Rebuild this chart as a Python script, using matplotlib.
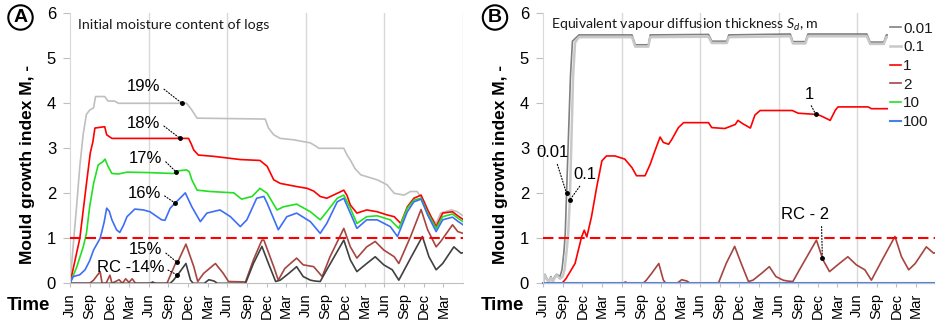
"""
Indice di crescita muffa M nel tempo: (A) umidità iniziale dei tronchi,
(B) spessore equivalente di diffusione del vapore S_d.
"""

import numpy as np
import matplotlib.pyplot as plt
from matplotlib.patches import Circle

plt.rcParams['font.family'] = ['Liberation Sans', 'DejaVu Sans']
plt.rcParams['mathtext.fontset'] = 'custom'
plt.rcParams['mathtext.it'] = 'Lato:italic'
plt.rcParams['mathtext.rm'] = 'Lato'

# --- Pannello A: umidità iniziale dei tronchi (mesi da giugno, valore M) ---
m19 = [0, 1.0, 1.5, 2.0, 2.5, 3.0, 3.6, 3.9, 5.3, 5.8, 6.8, 7.4, 17.8, 18.6, 19.4,
       29.8, 30.3, 31.1, 32.1, 34.1, 36.7, 37.5, 38.0, 41.8, 42.3, 42.8, 43.5, 44.4,
       46.9, 48.4, 49.5, 51.0, 52.0, 53.0, 54.1, 55.1, 55.9, 56.6, 58.2, 59.0, 60]
v19 = [0, 1.7, 2.6, 3.3, 3.75, 3.85, 3.9, 4.15, 4.15, 4.05, 4.05, 4.0, 4.0, 3.85, 3.67,
       3.65, 3.45, 3.3, 3.22, 3.19, 3.12, 3.05, 3.0, 3.0, 2.85, 2.74, 2.55, 2.41,
       2.3, 2.19, 2.0, 1.96, 2.04, 2.04, 1.81, 1.48, 1.33, 1.56, 1.63, 1.6, 1.5]

m18 = [0, 1.5, 2.5, 3.1, 3.5, 3.8, 5.3, 5.6, 6.4, 18.1, 18.5, 18.9, 19.6, 22, 26, 29.0,
       30.1, 31.1, 32.1, 34.6, 36.2, 37.2, 38.2, 39.2, 40.8, 41.8, 42.3, 42.8, 43.8, 45.3,
       46.9, 48.4, 49.5, 50.5, 51.5, 52.5, 53.6, 54.6, 55.9, 56.9, 58.4, 59.2, 60]
v18 = [0, 1.0, 2.2, 2.9, 3.15, 3.45, 3.48, 3.3, 3.22, 3.22, 3.1, 2.96, 2.85, 2.82, 2.75, 2.73,
       2.6, 2.3, 2.22, 2.15, 2.11, 2.05, 1.93, 1.89, 2.0, 2.07, 1.95, 1.74, 1.56, 1.63,
       1.59, 1.52, 1.48, 1.33, 1.7, 1.89, 1.96, 1.63, 1.26, 1.56, 1.59, 1.5, 1.42]

m17 = [0, 1.0, 2.0, 2.5, 3.0, 3.6, 4.3, 5.0, 5.35, 5.8, 6.4, 7.4, 8.7, 12, 15.8, 16.5,
       17.8, 18.2, 18.6, 19.4, 21.4, 25.0, 26.2, 27.8, 29.0, 30.1, 31.6, 32.6, 34.6, 36.7,
       38.2, 39.2, 40.8, 41.8, 42.8, 43.8, 45.3, 46.9, 48.9, 50.2, 51.5, 52.5, 53.6, 54.6,
       55.9, 56.9, 58.4, 59.2, 60]
v17 = [0, 0.35, 0.8, 1.1, 1.7, 2.22, 2.63, 2.7, 2.76, 2.6, 2.44, 2.43, 2.47, 2.46, 2.44, 2.5,
       2.52, 2.48, 2.3, 2.07, 2.04, 2.01, 1.87, 1.93, 2.11, 2.0, 1.63, 1.7, 1.76, 1.59,
       1.41, 1.59, 1.89, 1.96, 1.67, 1.33, 1.48, 1.5, 1.41, 1.22, 1.67, 1.85, 1.89, 1.56,
       1.22, 1.48, 1.54, 1.45, 1.37]

m16 = [0, 0.5, 1.5, 2.3, 3.0, 3.6, 4.6, 5.2, 5.6, 6.0, 6.4, 7.1, 7.6, 8.2, 8.7, 9.9, 11.2,
       12.2, 13.3, 14.0, 14.5, 15.3, 16.1, 17.0, 17.6, 18.6, 19.9, 20.9, 22.9, 24.5, 26.0,
       27.0, 28.5, 29.6, 30.1, 31.8, 33.1, 34.6, 36.7, 38.2, 39.2, 40.8, 41.8, 42.8, 43.8,
       45.3, 46.9, 48.9, 50.0, 51.5, 52.5, 53.6, 54.6, 55.9, 56.9, 58.4, 59.2, 60]
v16 = [0, 0.15, 0.19, 0.3, 0.5, 0.74, 1.0, 1.35, 1.67, 1.6, 1.41, 1.19, 1.13, 1.3, 1.48, 1.65, 1.63,
       1.59, 1.48, 1.41, 1.4, 1.67, 1.79, 1.92, 2.01, 1.7, 1.37, 1.56, 1.63, 1.48, 1.26,
       1.41, 1.89, 1.93, 1.78, 1.19, 1.48, 1.56, 1.37, 1.11, 1.33, 1.81, 1.89, 1.56, 1.22,
       1.41, 1.41, 1.26, 1.04, 1.59, 1.81, 1.87, 1.52, 1.15, 1.41, 1.47, 1.38, 1.3]

m15 = [0, 3.0, 3.6, 4.6, 4.9, 5.5, 6.1, 6.4, 7.5, 8.0, 8.5, 9.0, 9.5, 10.0, 14.8, 16.1, 16.6,
       17.7, 18.9, 19.5, 20.4, 22.2, 23.4, 24.2, 26.8, 28.0, 29.3, 29.6, 31.1, 31.8, 32.8,
       34.6, 35.6, 37.2, 38.5, 39.7, 41.8, 42.8, 43.8, 45.3, 46.6, 47.9, 49.5, 50.2, 52.0,
       53.6, 54.6, 55.9, 56.6, 58.4, 59.2, 60]
v15 = [0, 0, 0.07, 0.26, 0, 0, 0.18, 0, 0.08, 0, 0.1, 0.02, 0.1, 0, 0, 0.44, 0.52,
       0.87, 0.37, 0.04, 0.22, 0.44, 0.22, 0.04, 0.03, 0.52, 0.96, 0.96, 0.37, 0.07, 0.33,
       0.56, 0.41, 0.37, 0.15, 0.59, 1.22, 0.81, 0.56, 0.81, 0.93, 0.74, 0.59, 0.44, 1.04,
       1.64, 1.19, 0.81, 0.93, 1.3, 1.15, 1.11]

# caso di riferimento RC (14% in A, S_d = 2 m in B)
m_rc = [0, 12.3, 12.6, 13.0, 15.3, 15.8, 16.6, 17.7, 18.4, 18.8, 20.5, 21.2, 22.0, 22.5,
        26.8, 28.0, 29.3, 30.3, 31.4, 32.1, 33.4, 34.6, 35.6, 36.7, 37.4, 38.2, 39.2,
        41.8, 42.8, 43.8, 45.3, 46.6, 47.9, 49.2, 50.2, 52.0, 53.8, 54.8, 55.9, 56.9,
        58.6, 59.7, 60]
v_rc = [0, 0, 0.03, 0, 0, 0.07, 0.22, 0.44, 0.07, 0, 0, 0.08, 0.05, 0,
        0, 0.44, 0.82, 0.44, 0.04, 0.07, 0.22, 0.37, 0.15, 0.07, 0.05, 0.04, 0.3,
        0.96, 0.52, 0.26, 0.44, 0.59, 0.41, 0.3, 0.07, 0.56, 1.04, 0.59, 0.3, 0.44,
        0.81, 0.67, 0.68]

# --- Pannello B: spessore equivalente di diffusione del vapore S_d ---
m_001 = [0, 0.3, 0.6, 0.9, 1.2, 1.5, 1.8, 2.1, 2.6, 2.9, 3.2, 3.4, 3.6, 3.9, 4.2, 4.5,
         5.0, 5.5, 13.6, 14.1, 16.1, 16.4, 25.3, 25.8, 28.1, 28.4, 37.8, 38.2, 40.1, 40.5,
         49.5, 50.0, 52.1, 52.5, 60]
v_001 = [0, 0.2, 0.1, 0.05, 0.15, 0.05, 0.15, 0.2, 0.15, 0.3, 0.7, 1.1, 2.0, 3.3, 4.6, 5.38,
         5.45, 5.52, 5.52, 5.3, 5.3, 5.52, 5.53, 5.38, 5.38, 5.52, 5.54, 5.37, 5.37, 5.54,
         5.54, 5.36, 5.36, 5.52, 5.52]

m_01 = [0, 0.3, 0.6, 0.9, 1.2, 1.5, 1.8, 2.1, 2.6, 3.0, 3.3, 3.6, 3.85, 4.1, 4.35, 4.6,
        4.9, 5.5, 13.6, 14.1, 16.1, 16.4, 25.3, 25.8, 28.1, 28.4, 37.8, 38.2, 40.1, 40.5,
        49.5, 50.0, 52.1, 52.5, 60]
v_01 = [0, 0.18, 0.08, 0.04, 0.12, 0.04, 0.12, 0.18, 0.1, 0.15, 0.3, 0.7, 1.1, 1.85, 3.2, 4.6,
        5.35, 5.47, 5.47, 5.26, 5.26, 5.47, 5.48, 5.34, 5.34, 5.47, 5.49, 5.33, 5.33, 5.49,
        5.49, 5.32, 5.32, 5.47, 5.47]

m_1 = [0, 2.9, 3.5, 4.9, 5.9, 6.3, 6.7, 7.4, 8.2, 9.0, 9.7, 11.0, 12.5, 13.6, 14.3, 15.6,
       16.4, 17.1, 17.9, 18.4, 19.2, 19.7, 20.7, 21.5, 25.3, 25.8, 27.8, 29.4, 29.8, 30.5,
       31.7, 32.4, 33.2, 38.1, 39.0, 42.0, 42.8, 43.9, 44.7, 45.1, 49.7, 50.2, 60]
v_1 = [0, 0, 0.1, 0.44, 1.03, 1.18, 1.03, 1.47, 2.13, 2.72, 2.83, 2.83, 2.76, 2.57, 2.39, 2.39,
       2.65, 2.94, 3.25, 3.13, 3.09, 3.2, 3.46, 3.57, 3.57, 3.46, 3.44, 3.53, 3.62, 3.55,
       3.45, 3.74, 3.84, 3.84, 3.78, 3.75, 3.7, 3.62, 3.85, 3.92, 3.92, 3.88, 3.88]

m_flat = [0, 60]
v_10 = [0, 0]
v_100 = [0, 0]

mesi_tick = ['Jun', 'Sep', 'Dec', 'Mar'] * 5
pos_tick = np.arange(0, 60, 3)

GRIGIO_CH = '#bfbfbf'
ROSSO = '#ff0000'
VERDE = '#22e022'
BLU = '#3d6ef5'
MARRONE = '#a64540'
GRIGIO_SC = '#404040'


def stile_asse(ax):
    ax.set_xlim(0, 60)
    ax.set_ylim(0, 6)
    ax.set_xticks(pos_tick)
    ax.set_xticklabels(mesi_tick, rotation=90, fontsize=10.5)
    ax.set_yticks(range(7))
    ax.tick_params(axis='y', labelsize=12, length=5, color='#bfbfbf', pad=5)
    ax.tick_params(axis='x', length=3, color='#bfbfbf', pad=4)
    for s in ['top', 'right']:
        ax.spines[s].set_visible(False)
    ax.spines['left'].set_color('#d9d9d9')
    ax.spines['bottom'].set_color('#bfbfbf')
    for g in [12, 24, 36, 48, 60]:
        ax.axvline(g, color='#d9d9d9', lw=1, zorder=0)
    ax.axhline(1, color=ROSSO, lw=1.5, ls=(0, (5, 2.5)), zorder=4)
    ax.set_ylabel('Mould growth index M, -', fontsize=12.5, fontweight='bold')
    ax.yaxis.set_label_coords(-0.089, 0.44)


def etichetta(ax, testo, xt, yt, mx, serie_m, serie_v, rel):
    my = np.interp(mx, serie_m, serie_v)
    ax.plot(mx, my, 'o', color='black', ms=2.5, zorder=6)
    ax.annotate(testo, xy=(mx, my), xytext=(xt, yt), ha='center', va='center', fontsize=12,
                arrowprops=dict(arrowstyle='-', ls=':', lw=0.8, color='black',
                                shrinkA=1, shrinkB=0, relpos=rel), zorder=6)


fig = plt.figure(figsize=(9.35, 3.22), dpi=100)
axA = fig.add_axes([70 / 935, 38.7 / 322, 393 / 935, 270 / 322])
axB = fig.add_axes([543 / 935, 38.7 / 322, 392.5 / 935, 270 / 322])

# pannello A
lw = 1.2
axA.plot(m19, v19, color=GRIGIO_CH, lw=lw)
axA.plot(m18, v18, color=ROSSO, lw=lw)
axA.plot(m17, v17, color=VERDE, lw=lw)
axA.plot(m16, v16, color=BLU, lw=lw)
axA.plot(m15, v15, color=MARRONE, lw=lw)
axA.plot(m_rc, v_rc, color=GRIGIO_SC, lw=lw)
stile_asse(axA)

etichetta(axA, '19%', 11.2, 4.38, 17.1, m19, v19, (1, 0.5))
etichetta(axA, '18%', 11.2, 3.56, 16.8, m18, v18, (1, 0.5))
etichetta(axA, '17%', 11.5, 2.78, 16.2, m17, v17, (1, 0.5))
etichetta(axA, '16%', 11.3, 2.0, 16.05, m16, v16, (1, 0.5))
etichetta(axA, '15%', 11.5, 0.74, 16.3, m15, v15, (1, 0.5))
etichetta(axA, 'RC -14%', 9.2, 0.34, 16.4, m_rc, v_rc, (1, 0.5))

# pannello B
axB.plot(m_001, v_001, color='#808080', lw=lw, label='0.01')
axB.plot(m_01, v_01, color='#c8c8c8', lw=1.8, label='0.1')
axB.plot(m_1, v_1, color=ROSSO, lw=lw, label='1')
axB.plot(m_rc, v_rc, color=MARRONE, lw=lw, label='2')
axB.plot(m_flat, v_10, color=VERDE, lw=lw, label='10')
axB.plot(m_flat, v_100, color='#4a7fe8', lw=1.5, label='100', clip_on=False)
stile_asse(axB)

etichetta(axB, '0.01', 1.5, 2.9, 3.6, m_001, v_001, (0.6, 0))
etichetta(axB, '0.1', 6.4, 2.41, 4.1, m_01, v_01, (0.4, 0))
etichetta(axB, '1', 40.7, 4.2, 41.7, m_1, v_1, (0.5, 0))
etichetta(axB, 'RC - 2', 40.0, 1.52, 42.7, m_rc, v_rc, (0.85, 0))

# legenda con sfondo bianco fino al bordo destro
leg_h = 115 / 322
leg = axB.legend(loc='upper left', mode='expand',
                 bbox_to_anchor=(888 / 935, 1 - 20 / 322 - leg_h, 47 / 935, leg_h),
                 bbox_transform=fig.transFigure, frameon=True, fancybox=False,
                 edgecolor='none', facecolor='white', framealpha=1,
                 handlelength=0.75, handletextpad=0.15, labelspacing=0.31,
                 fontsize=11, borderaxespad=0, borderpad=0.1)
for t in leg.get_texts():
    t.set_color('#1a1a1a')

# titoli interni
fig.text(78 / 935, 1 - 25 / 322, 'Initial moisture content of logs',
         family='Lato', fontsize=10.3, ha='left', va='center', color='#1a1a1a')
fig.text(551 / 935, 1 - 25 / 322, r'Equivalent vapour diffusion thickness $S_{d}$, m',
         family='Lato', fontsize=10.2, ha='left', va='center', color='#1a1a1a')

# lettere cerchiate e "Time"
for lettera, cx in [('A', 20.5), ('B', 495)]:
    fig.add_artist(Circle((cx / 100, (322 - 17.5) / 100), 0.122,
                          transform=fig.dpi_scale_trans, fill=False, lw=1.5, ec='black'))
    fig.text(cx / 935, 1 - 17.5 / 322, lettera, ha='center', va='center',
             fontsize=14, fontweight='bold')
for cx in [28, 502]:
    fig.text(cx / 935, 1 - 306 / 322, 'Time', ha='center', va='center',
             fontsize=13.5, fontweight='bold')

fig.savefig('out.png', dpi=100)
